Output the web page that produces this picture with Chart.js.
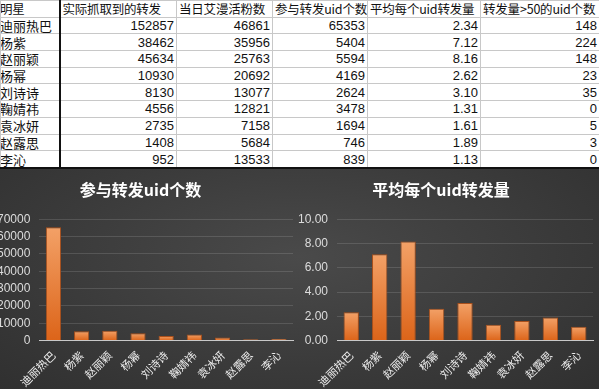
<!DOCTYPE html>
<html>
<head>
<meta charset="utf-8">
<script src="https://cdn.jsdelivr.net/npm/chart.js@4/dist/chart.umd.min.js"></script>
<style>
  body { margin: 0; width: 599px; height: 389px; overflow: hidden; background: #3a3a3a; position: relative; font-family: "Noto Sans CJK SC", sans-serif; }
  .table-wrap { position: absolute; left: 0; top: 0; width: 599px; height: 169px; background: #fff; border-bottom: 2px solid #111; box-sizing: border-box; overflow: hidden; }
  table { border-collapse: collapse; table-layout: fixed; width: 599px; }
  td { height: 15.7px; padding: 0 2px; border: 1px solid #c8c8c8; font-size: 13px; line-height: 15px; color: #111; white-space: nowrap; overflow: hidden; }
  td.num { text-align: right; font-family: "Liberation Sans Narrow", "Liberation Sans", sans-serif; font-size: 13px; }
  td.name { border-right: 2px solid #111; text-indent: -4px; }
  tr.head td { text-align: left; font-size: 12.5px; letter-spacing: -0.2px; }
  .charts { position: absolute; left: 0; top: 169px; width: 599px; height: 220px;
    background: radial-gradient(ellipse at 50% 40%, #4a4a4a 0%, #3a3a3a 60%, #303030 100%); }
  canvas { position: absolute; }
</style>
</head>
<body>
<div class="table-wrap"><table id="tbl">
  <colgroup><col style="width:59px"><col style="width:117px"><col style="width:96px"><col style="width:95px"><col style="width:113px"><col style="width:119px"></colgroup>
</table></div>
<div class="charts">
  <canvas id="left" width="327" height="220" style="left:-16px;top:0"></canvas>
  <canvas id="right" width="314" height="220" style="left:285px;top:0"></canvas>
</div>
<script>
// data
const headers = ['明星', '实际抓取到的转发', '当日艾漫活粉数', '参与转发uid个数', '平均每个uid转发量', '转发量>50的uid个数'];
const stars = ['迪丽热巴', '杨紫', '赵丽颖', '杨幂', '刘诗诗', '鞠婧祎', '袁冰妍', '赵露思', '李沁'];
const realReposts = [152857, 38462, 45634, 10930, 8130, 4556, 2735, 1408, 952];
const activeFans = [46861, 35956, 25763, 20692, 13077, 12821, 7158, 5684, 13533];
const uidCount = [65353, 5404, 5594, 4169, 2624, 3478, 1694, 746, 839];
const avgPerUid = [2.34, 7.12, 8.16, 2.62, 3.10, 1.31, 1.61, 1.89, 1.13];
const over50 = [148, 224, 148, 23, 35, 0, 5, 3, 0];

// table
const tbl = document.getElementById('tbl');
let html = '<tr class="head">' + headers.map((h, i) => '<td' + (i == 0 ? ' class="name"' : '') + '>' + h.replace('>', '&gt;') + '</td>').join('') + '</tr>';
stars.forEach((s, i) => {
    html += '<tr><td class="name">' + s + '</td>'
        + '<td class="num">' + realReposts[i] + '</td>'
        + '<td class="num">' + activeFans[i] + '</td>'
        + '<td class="num">' + uidCount[i] + '</td>'
        + '<td class="num">' + avgPerUid[i].toFixed(2) + '</td>'
        + '<td class="num">' + over50[i] + '</td></tr>';
});
tbl.insertAdjacentHTML('beforeend', html);

Chart.defaults.font.family = '"Noto Sans CJK SC", sans-serif';
Chart.defaults.animation = false;

// light at the top of each bar, deeper orange at the base
function barFill (ctx) {
    const y = ctx.chart.scales.y;
    if (!y || ctx.raw == null) return '#e7772f';
    const top = y.getPixelForValue(ctx.raw);
    const base = y.getPixelForValue(0);
    if (!isFinite(top) || base - top < 1) return '#e7772f';
    const g = ctx.chart.ctx.createLinearGradient(0, top, 0, base);
    g.addColorStop(0, '#f3a167');
    g.addColorStop(1, '#dc6419');
    return g;
}

function barChart (id, title, values, yMax, step, decimals, pad, tickFont) {
    return new Chart(document.getElementById(id), {
        type: 'bar',
        data: {
            labels: stars,
            datasets: [{
                data: values,
                backgroundColor: barFill,
                borderColor: '#a9501c',
                borderWidth: 1,
                barPercentage: 0.54,
                categoryPercentage: 1
            }]
        },
        options: {
            responsive: false,
            layout: { padding: pad },
            plugins: {
                legend: { display: false },
                tooltip: { enabled: false },
                title: {
                    display: true,
                    text: title,
                    color: '#ffffff',
                    font: { size: 16, weight: 'bold' },
                    padding: { top: 11, bottom: 20 }
                }
            },
            scales: {
                x: {
                    grid: { display: false },
                    border: { color: '#c8c8c8', width: 1 },
                    ticks: { color: '#ededed', font: { size: 11 }, minRotation: 45, maxRotation: 45, padding: 0 }
                },
                y: {
                    min: 0,
                    max: yMax,
                    grid: { color: 'rgba(255,255,255,0.13)', drawTicks: false },
                    border: { display: false },
                    ticks: {
                        stepSize: step,
                        autoSkip: false,
                        color: '#dcdcdc',
                        padding: 9,
                        font: tickFont,
                        callback: v => v.toFixed(decimals)
                    }
                }
            }
        }
    });
}

barChart('left', '参与转发uid个数', uidCount, 70000, 10000, 0, { left: 4, right: 18, top: 0, bottom: 0 },
    { size: 12, family: '"Liberation Sans Narrow", "Liberation Sans", sans-serif' });
barChart('right', '平均每个uid转发量', avgPerUid, 10, 2, 2, { left: 4, right: 6, top: 0, bottom: 0 },
    { size: 12, family: '"Liberation Sans", sans-serif' });
</script>
</body>
</html>
